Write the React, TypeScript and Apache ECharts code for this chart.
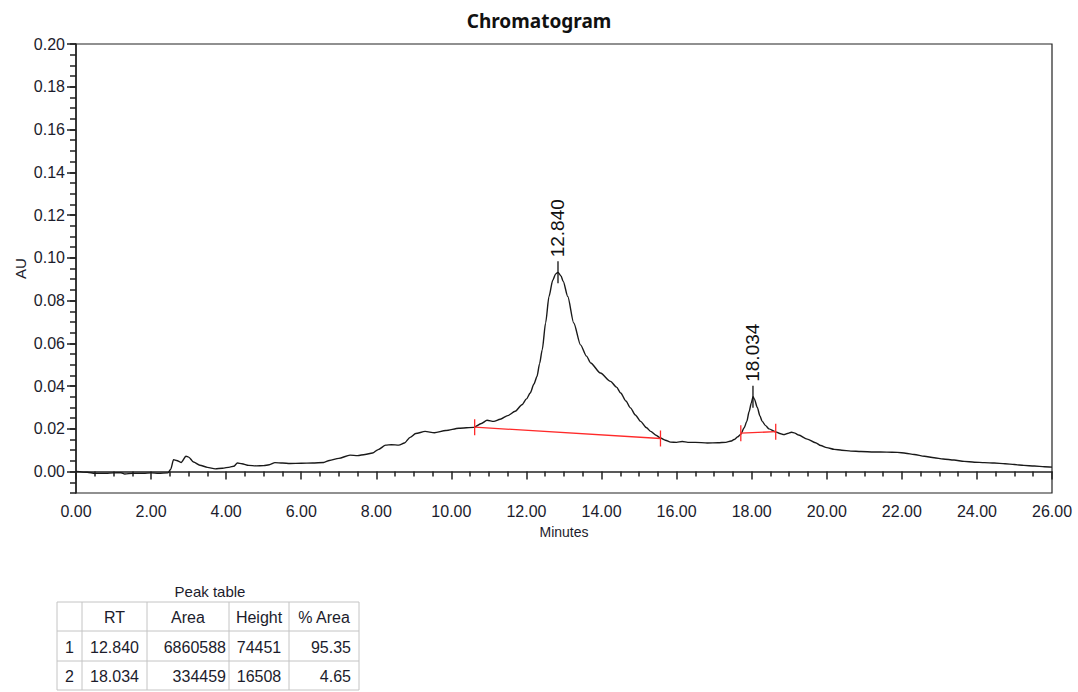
import React, { useEffect, useRef } from 'react';
import * as echarts from 'echarts';

// ---- Chromatogram trace (minutes, AU) ----
const traceTime = [
  0.0, 0.3, 0.5, 0.8, 1.0, 1.2, 1.3, 1.5, 1.8, 2.0, 2.2, 2.45, 2.52, 2.6, 2.68, 2.8, 2.93, 3.0, 3.13, 3.3,
  3.5, 3.71, 3.9, 4.1, 4.2, 4.3, 4.42, 4.6, 4.8, 5.0, 5.15, 5.3, 5.5, 5.7, 6.0, 6.3, 6.6, 6.75, 7.0, 7.3,
  7.5, 7.7, 7.9, 8.05, 8.25, 8.4, 8.6, 8.75, 8.9, 9.05, 9.3, 9.55, 9.85, 10.2, 10.6, 10.8, 10.95, 11.13, 11.3, 11.5,
  11.7, 11.88, 12.0, 12.1, 12.2, 12.28, 12.35, 12.42, 12.51, 12.6, 12.7, 12.78, 12.84, 12.92, 12.98, 13.1, 13.26, 13.44, 13.6, 13.71,
  13.97, 14.24, 14.4, 14.51, 14.65, 14.77, 14.9, 15.04, 15.2, 15.31, 15.45, 15.57, 15.7, 15.84, 16.0, 16.15, 16.3, 16.5, 16.82, 17.1,
  17.31, 17.45, 17.53, 17.63, 17.71, 17.8, 17.87, 17.93, 17.99, 18.034, 18.07, 18.15, 18.22, 18.28, 18.37, 18.46, 18.64, 18.75, 18.86, 18.95,
  19.06, 19.15, 19.25, 19.48, 19.7, 19.84, 20.0, 20.2, 20.4, 20.64, 20.91, 21.26, 21.6, 21.88, 22.1, 22.33, 22.6, 22.86, 23.1, 23.39,
  23.66, 23.93, 24.2, 24.46, 24.75, 25.0, 25.25, 25.53, 25.8, 26.0,
];
const traceAU = [
  0.0001, -0.0003, -0.0008, -0.0008, -0.0006, -0.0005, -0.0011, -0.0008, -0.0008, -0.0006, -0.0008, -0.0006, 0.001, 0.0056, 0.0052, 0.0043, 0.0072, 0.0068, 0.0045, 0.003,
  0.002, 0.0013, 0.0016, 0.0021, 0.0025, 0.004, 0.0037, 0.0029, 0.0027, 0.0028, 0.0032, 0.0042, 0.004, 0.0038, 0.0039, 0.004, 0.0043, 0.0052, 0.0062, 0.0077,
  0.0075, 0.008, 0.0087, 0.0103, 0.0124, 0.0126, 0.0124, 0.0134, 0.016, 0.0178, 0.0188, 0.0182, 0.0192, 0.0203, 0.0207, 0.0225, 0.024, 0.0235, 0.0245, 0.0262,
  0.0282, 0.0313, 0.034, 0.0368, 0.041, 0.0445, 0.0505, 0.057, 0.0695, 0.0819, 0.0895, 0.0925, 0.0932, 0.0915, 0.0889, 0.0819, 0.0695, 0.0593, 0.054, 0.0508,
  0.0461, 0.0422, 0.0395, 0.0368, 0.033, 0.0298, 0.0265, 0.0235, 0.0205, 0.0188, 0.017, 0.0157, 0.0147, 0.0138, 0.0137, 0.0141, 0.0137, 0.0137, 0.0134, 0.0135,
  0.0137, 0.0143, 0.015, 0.0163, 0.0175, 0.0205, 0.0235, 0.028, 0.0321, 0.035, 0.034, 0.03, 0.026, 0.0235, 0.0215, 0.02, 0.0186, 0.0178, 0.0173, 0.0178,
  0.0184, 0.018, 0.0171, 0.0152, 0.0135, 0.0122, 0.0112, 0.0104, 0.01, 0.0096, 0.0094, 0.0092, 0.0091, 0.009, 0.0086, 0.008, 0.0072, 0.0065, 0.0059, 0.0054,
  0.0048, 0.0044, 0.0042, 0.004, 0.0037, 0.0033, 0.0029, 0.0026, 0.0023, 0.0021,
];

// ---- Peak annotations ----
const peakRT = [12.84, 18.034];
const peakApexAU = [0.0932, 0.035];
const peakLabels = ['12.840', '18.034'];

// ---- Integration baselines (start/end) ----
const baseStartTime = [10.62, 17.71];
const baseStartAU = [0.0208, 0.018];
const baseEndTime = [15.57, 18.64];
const baseEndAU = [0.0155, 0.0187];

// ---- Axis ticks ----
const yLabelValues = [0, 0.02, 0.04, 0.06, 0.08, 0.1, 0.12, 0.14, 0.16, 0.18, 0.2];

// ---- Peak table ----
const tableHeaders = ['', 'RT', 'Area', 'Height', '% Area'];
const tableIndex = ['1', '2'];
const tableRT = ['12.840', '18.034'];
const tableArea = ['6860588', '334459'];
const tableHeight = ['74451', '16508'];
const tablePctArea = ['95.35', '4.65'];

const TEXT = '#1c1c2c';
const FONT = 'Liberation Sans, Arial, sans-serif';

function buildTable() {
  const colX = [57, 82, 147, 229, 289, 359];
  const rowY = [602, 631, 661, 690];
  const els: any[] = [];
  const lineStyle = { stroke: '#c4c4c4', lineWidth: 1 };
  rowY.forEach((y) => {
    els.push({ type: 'line', shape: { x1: colX[0], y1: y, x2: colX[5], y2: y }, style: lineStyle });
  });
  colX.forEach((x) => {
    els.push({ type: 'line', shape: { x1: x, y1: rowY[0], x2: x, y2: rowY[3] }, style: lineStyle });
  });
  els.push({
    type: 'text', x: 210, y: 591,
    style: { text: 'Peak table', font: `15px ${FONT}`, fill: TEXT, align: 'center', verticalAlign: 'middle' },
  });
  const cellText = (text: string, x: number, y: number, align: string) => ({
    type: 'text', x, y,
    style: { text, font: `16px ${FONT}`, fill: TEXT, align, verticalAlign: 'middle' },
  });
  const centers = colX.slice(0, 5).map((x, i) => (x + colX[i + 1]) / 2);
  tableHeaders.forEach((h, i) => {
    if (h) els.push(cellText(h, centers[i], (rowY[0] + rowY[1]) / 2 + 1, 'center'));
  });
  tableIndex.forEach((_, r) => {
    const y = (rowY[r + 1] + rowY[r + 2]) / 2 + 1;
    els.push(cellText(tableIndex[r], centers[0], y, 'center'));
    els.push(cellText(tableRT[r], centers[1], y, 'center'));
    els.push(cellText(tableArea[r], colX[3] - 3, y, 'right'));
    els.push(cellText(tableHeight[r], centers[3], y, 'center'));
    els.push(cellText(tablePctArea[r], colX[5] - 8, y, 'right'));
  });
  return els;
}

export default function App() {
  const ref = useRef<HTMLDivElement>(null);
  useEffect(() => {
    const chart = echarts.init(ref.current!, null, { renderer: 'svg' });
    const axisLabelStyle = { color: TEXT, fontSize: 16, fontFamily: FONT };
    const option: any = {
      animation: false,
      backgroundColor: '#fff',
      title: {
        text: 'Chromatogram',
        left: 'center',
        top: 6,
        textStyle: { fontFamily: 'Noto Sans', fontWeight: 'bold', fontSize: 19, color: '#111' },
      },
      grid: {
        left: 76, right: 26, top: 44, bottom: 199,
        show: true, borderColor: '#222', borderWidth: 1.2,
      },
      xAxis: {
        type: 'value', min: 0, max: 26, interval: 2,
        axisLine: { show: true, lineStyle: { color: '#222', width: 1.5 } },
        axisTick: { show: true, length: 8, lineStyle: { color: '#222', width: 1.5 } },
        minorTick: { show: true, splitNumber: 4, length: 5, lineStyle: { color: '#222', width: 1.5 } },
        splitLine: { show: false },
        axisLabel: { ...axisLabelStyle, margin: 10, formatter: (v: number) => v.toFixed(2) },
        name: 'Minutes', nameLocation: 'middle', nameGap: 32, nameMoveOverlap: false,
        nameTextStyle: { color: TEXT, fontSize: 14, fontFamily: FONT },
      },
      yAxis: [
        {
          type: 'value', min: -0.01, max: 0.2, interval: 0.005, position: 'left',
          axisLine: { show: true, lineStyle: { color: '#222', width: 1.5 } },
          axisTick: { show: true, length: 6, lineStyle: { color: '#222', width: 1.5 } },
          axisLabel: { show: false },
          splitLine: { show: false },
        },
        {
          type: 'value', min: -0.01, max: 0.2, position: 'left', offset: 0,
          axisLine: { show: false },
          axisTick: { show: true, length: 9, customValues: yLabelValues, lineStyle: { color: '#222', width: 1.5 } },
          axisLabel: { ...axisLabelStyle, margin: 11, customValues: yLabelValues, formatter: (v: number) => v.toFixed(2) },
          splitLine: { show: false },
          name: 'AU', nameLocation: 'middle', nameGap: 48, nameRotate: 90, nameMoveOverlap: false,
          nameTextStyle: { color: TEXT, fontSize: 15, fontFamily: FONT },
        },
      ],
      series: [
        {
          type: 'line',
          data: traceTime.map((t, i) => [t, traceAU[i]]),
          showSymbol: false,
          symbol: 'none',
          smooth: 0.25,
          smoothMonotone: 'x',
          lineStyle: { color: '#1a1a1a', width: 1.4 },
          silent: true,
          z: 3,
        },
        {
          type: 'custom',
          silent: true,
          clip: false,
          z: 4,
          data: baseStartTime.map((t, i) => [t, baseStartAU[i], baseEndTime[i], baseEndAU[i]]),
          encode: { x: [0, 2], y: [1, 3] },
          renderItem: (params: any, api: any) => {
            const p1 = api.coord([api.value(0), api.value(1)]);
            const p2 = api.coord([api.value(2), api.value(3)]);
            const st = { stroke: '#ff2a2a', lineWidth: 1.3 };
            return {
              type: 'group',
              children: [
                { type: 'line', shape: { x1: p1[0], y1: p1[1], x2: p2[0], y2: p2[1] }, style: st },
                { type: 'line', shape: { x1: p1[0], y1: p1[1] - 8, x2: p1[0], y2: p1[1] + 8 }, style: st },
                { type: 'line', shape: { x1: p2[0], y1: p2[1] - 8, x2: p2[0], y2: p2[1] + 8 }, style: st },
              ],
            };
          },
        },
        {
          type: 'custom',
          silent: true,
          clip: false,
          z: 5,
          data: peakRT.map((t, i) => [t, peakApexAU[i]]),
          renderItem: (params: any, api: any) => {
            const p = api.coord([api.value(0), api.value(1)]);
            return {
              type: 'group',
              children: [
                { type: 'line', shape: { x1: p[0], y1: p[1] - 11, x2: p[0], y2: p[1] + 11 }, style: { stroke: '#111', lineWidth: 1.3 } },
                {
                  type: 'text',
                  x: p[0],
                  y: p[1] - 15,
                  rotation: Math.PI / 2,
                  style: {
                    text: peakLabels[params.dataIndex],
                    font: `19px ${FONT}`,
                    fill: '#111',
                    align: 'left',
                    verticalAlign: 'middle',
                  },
                },
              ],
            };
          },
        },
      ],
      graphic: buildTable(),
    };
    chart.setOption(option);
    return () => chart.dispose();
  }, []);
  return (
    <div
      ref={ref}
      style={{ position: 'absolute', left: 0, top: 0, width: 1078, height: 692, background: '#fff' }}
    />
  );
}
